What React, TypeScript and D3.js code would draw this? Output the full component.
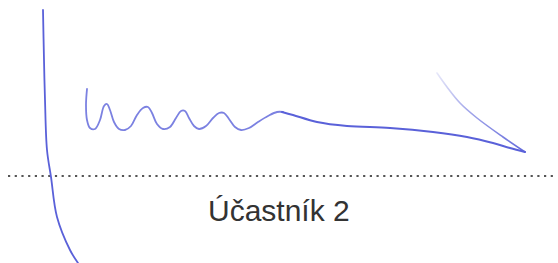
import React from "react";
import * as d3 from "d3";

const W = 558;
const H = 263;

// signature strokes as [x, y] points in pixel space of the page
const verticalStroke: [number, number][] = [
  [43, 10], [44, 60], [45, 100], [47, 150], [51, 177], [57, 217], [70, 250], [78, 263],
];
const waveStroke: [number, number][] = [
  [87, 89], [86, 105], [87, 120], [90, 128], [95, 129], [100, 120], [104, 106],
  [107, 104], [110, 110], [114, 122], [119, 129], [125, 130], [131, 126],
  [137, 115], [143, 108], [148, 107], [152, 113], [157, 124], [163, 129],
  [170, 127], [176, 118], [181, 111], [185, 111], [189, 118], [194, 126],
  [199, 129], [206, 126], [213, 118], [219, 113], [224, 113], [229, 119],
  [235, 127], [241, 130], [249, 128], [258, 122], [268, 116], [277, 112], [283, 112],
];
const mainStroke: [number, number][] = [
  [282, 112], [293, 115], [317, 122], [347, 126], [390, 128], [433, 132],
  [467, 137], [493, 143], [510, 148], [525, 152],
];
const returnStroke: [number, number][] = [
  [525, 152], [503, 137], [477, 118], [460, 103], [447, 87], [437, 73],
];

const labelText = "Účastník 2";
const dotY = 176;
const dotStart = 8;
const dotEnd = 556;

export default function App() {
  const line = d3
    .line<[number, number]>()
    .x((d) => d[0])
    .y((d) => d[1])
    .curve(d3.curveCatmullRom.alpha(0.5));

  const ink = "#5a61d9";

  return (
    <svg
      width={W}
      height={H}
      style={{ position: "absolute", left: 0, top: 0, background: "#fff" }}
    >
      <defs>
        <linearGradient id="fade" x1="525" y1="152" x2="437" y2="73" gradientUnits="userSpaceOnUse">
          <stop offset="0" stopColor={ink} stopOpacity={0.95} />
          <stop offset="0.6" stopColor={ink} stopOpacity={0.55} />
          <stop offset="1" stopColor={ink} stopOpacity={0.15} />
        </linearGradient>
      </defs>
      <rect width={W} height={H} fill="#fff" />
      <line
        x1={dotStart}
        x2={dotEnd}
        y1={dotY}
        y2={dotY}
        stroke="#555"
        strokeWidth={2.2}
        strokeDasharray="2.2 4.5"
      />
      <text
        x={208}
        y={221}
        fontFamily="Liberation Sans, Arial, sans-serif"
        fontSize={30}
        fill="#333"
      >
        {labelText}
      </text>
      <path d={line(verticalStroke) || ""} fill="none" stroke={ink} strokeWidth={1.8} strokeLinecap="round" />
      <path d={line(waveStroke) || ""} fill="none" stroke={ink} strokeOpacity={0.8} strokeWidth={1.8} strokeLinecap="round" strokeLinejoin="round" />
      <path d={line(mainStroke) || ""} fill="none" stroke={ink} strokeWidth={2} strokeLinecap="round" />
      <path d={line(returnStroke) || ""} fill="none" stroke="url(#fade)" strokeWidth={1.6} strokeLinecap="round" />
    </svg>
  );
}
